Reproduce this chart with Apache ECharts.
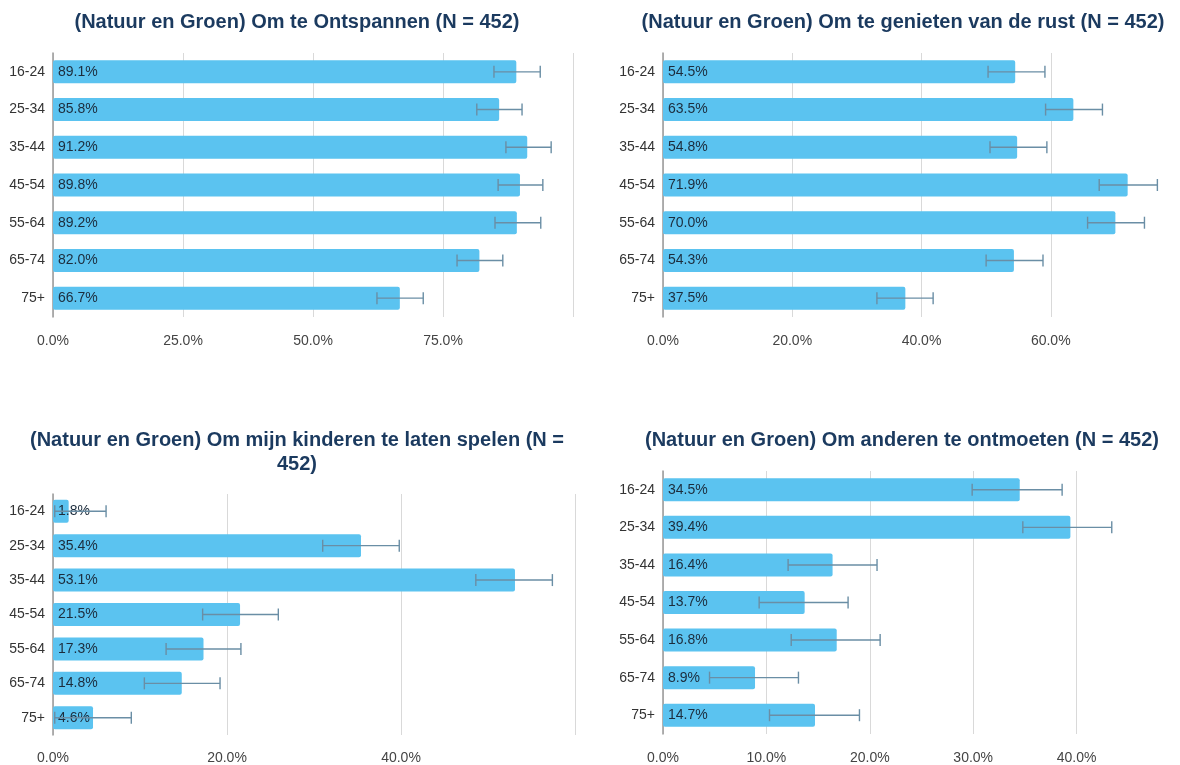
<!DOCTYPE html>
<html>
<head>
<meta charset="utf-8">
<script src="https://cdn.jsdelivr.net/npm/echarts@6/dist/echarts.min.js"></script>
<style>
  html, body { margin: 0; padding: 0; background: #fff; }
  #chart { width: 1180px; height: 765px; }
</style>
</head>
<body>
<div id="chart"></div>
<script>
// leeftijdsgroepen
var ageGroups = ["16-24", "25-34", "35-44", "45-54", "55-64", "65-74", "75+"];

var titles = [
  "(Natuur en Groen) Om te Ontspannen (N = 452)",
  "(Natuur en Groen) Om te genieten van de rust (N = 452)",
  "(Natuur en Groen) Om mijn kinderen te laten spelen (N =\n452)",
  "(Natuur en Groen) Om anderen te ontmoeten (N = 452)"
];

// percentages per paneel
var ontspannen = [89.1, 85.8, 91.2, 89.8, 89.2, 82.0, 66.7];
var ontspannenLow = [84.8, 81.5, 87.1, 85.6, 85.0, 77.7, 62.3];
var ontspannenHigh = [93.7, 90.2, 95.8, 94.2, 93.8, 86.5, 71.2];

var rust = [54.5, 63.5, 54.8, 71.9, 70.0, 54.3, 37.5];
var rustLow = [50.3, 59.2, 50.6, 67.5, 65.7, 50.0, 33.1];
var rustHigh = [59.1, 68.0, 59.4, 76.5, 74.5, 58.8, 41.8];

var kinderen = [1.8, 35.4, 53.1, 21.5, 17.3, 14.8, 4.6];
var kinderenLow = [0.2, 31.0, 48.6, 17.2, 13.0, 10.5, 0.2];
var kinderenHigh = [6.1, 39.8, 57.4, 25.9, 21.6, 19.2, 9.0];

var ontmoeten = [34.5, 39.4, 16.4, 13.7, 16.8, 8.9, 14.7];
var ontmoetenLow = [29.9, 34.8, 12.1, 9.3, 12.4, 4.5, 10.3];
var ontmoetenHigh = [38.6, 43.4, 20.7, 17.9, 21.0, 13.1, 19.0];

var axisMax = [100, 80, 60, 50];
var axisStep = [25, 20, 20, 10];

var panels = [
  { values: ontspannen, low: ontspannenLow, high: ontspannenHigh },
  { values: rust, low: rustLow, high: rustHigh },
  { values: kinderen, low: kinderenLow, high: kinderenHigh },
  { values: ontmoeten, low: ontmoetenLow, high: ontmoetenHigh }
];

var grids = [
  { left: 53, top: 53, width: 520, height: 264 },
  { left: 663, top: 53, width: 520, height: 264 },
  { left: 53, top: 494, width: 522, height: 242 },
  { left: 663, top: 471, width: 525, height: 264 }
];
var titlePos = [
  { left: 297, top: 10 },
  { left: 903, top: 10 },
  { left: 297, top: 428 },
  { left: 902, top: 428 }
];
var labelMargin = [17, 17, 16, 17];

var chartDom = document.getElementById("chart");
var myChart = echarts.init(chartDom);

function errorBar(params, api) {
  var cat = api.value(0);
  var lo = api.coord([api.value(1), cat]);
  var hi = api.coord([api.value(2), cat]);
  var cap = 6;
  var style = { stroke: "#6a8ea5", lineWidth: 1.4 };
  return {
    type: "group",
    children: [
      { type: "line", shape: { x1: lo[0], y1: lo[1], x2: hi[0], y2: hi[1] }, style: style },
      { type: "line", shape: { x1: lo[0], y1: lo[1] - cap, x2: lo[0], y2: lo[1] + cap }, style: style },
      { type: "line", shape: { x1: hi[0], y1: hi[1] - cap, x2: hi[0], y2: hi[1] + cap }, style: style }
    ]
  };
}

var option = {
  animation: false,
  title: [],
  grid: [],
  xAxis: [],
  yAxis: [],
  series: []
};

panels.forEach(function (p, i) {
  option.title.push({
    text: titles[i],
    left: titlePos[i].left,
    top: titlePos[i].top,
    padding: 0,
    textAlign: "center",
    textStyle: {
      fontFamily: "Liberation Sans, Arial, sans-serif",
      fontSize: 20,
      fontWeight: "bold",
      color: "#1b3a5f",
      lineHeight: 24
    }
  });
  option.grid.push(grids[i]);
  option.xAxis.push({
    type: "value",
    gridIndex: i,
    min: 0,
    max: axisMax[i],
    interval: axisStep[i],
    axisLine: { show: false },
    axisTick: { show: false },
    splitLine: { lineStyle: { color: "#d9d9d9", width: 1 } },
    axisLabel: {
      showMaxLabel: false,
      margin: labelMargin[i],
      fontFamily: "Liberation Sans, Arial, sans-serif",
      fontSize: 14,
      color: "#444",
      formatter: function (v) { return v.toFixed(1) + "%"; }
    }
  });
  option.yAxis.push({
    type: "category",
    gridIndex: i,
    inverse: true,
    data: ageGroups,
    axisLine: { show: true, lineStyle: { color: "#999", width: 1.5 } },
    axisTick: { show: false },
    axisLabel: {
      margin: 8,
      fontFamily: "Liberation Sans, Arial, sans-serif",
      fontSize: 14,
      color: "#333"
    }
  });
  option.series.push({
    type: "bar",
    xAxisIndex: i,
    yAxisIndex: i,
    data: p.values,
    barWidth: 23,
    itemStyle: { color: "#5bc3f0", borderRadius: 2 },
    label: {
      show: true,
      position: "insideLeft",
      distance: 5,
      fontFamily: "Liberation Sans, Arial, sans-serif",
      fontSize: 14,
      color: "#1c2c3c",
      formatter: function (d) { return d.value.toFixed(1) + "%"; }
    },
    z: 2
  });
  option.series.push({
    type: "custom",
    xAxisIndex: i,
    yAxisIndex: i,
    renderItem: errorBar,
    encode: { x: [1, 2], y: 0 },
    data: ageGroups.map(function (g, k) { return [k, p.low[k], p.high[k]]; }),
    z: 3
  });
});

option && myChart.setOption(option);
</script>
</body>
</html>
